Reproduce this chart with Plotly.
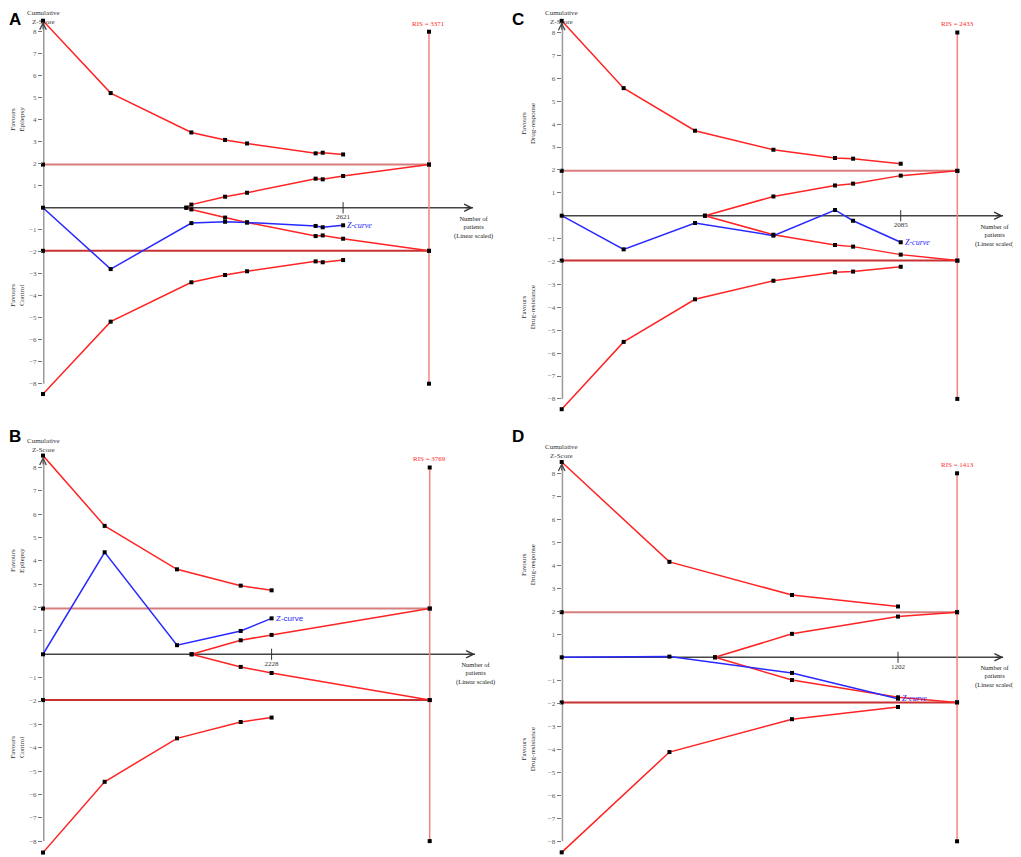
import plotly.graph_objects as go

# page has an 8px body margin, so the figure is a bit smaller than the window
OFF = 8
W, H = 1021 - OFF, 857 - OFF
SERIF = "Liberation Serif"
CONV_Z = 1.96          # conventional boundary
Y_TICKS = [-8, -7, -6, -5, -4, -3, -2, -1, 1, 2, 3, 4, 5, 6, 7, 8]
RIS_SPAN = [-8, 8]

# ---- panel A : epilepsy vs control
A_RIS = 3371
A_N = [0, 591, 1296, 1590, 1782, 2381, 2443, 2621]
A_UPPER = [8.5, 5.21, 3.42, 3.08, 2.92, 2.47, 2.50, 2.42]
A_LOWER = [-8.47, -5.18, -3.39, -3.06, -2.89, -2.44, -2.48, -2.38]
A_ZCURVE = [0, -2.79, -0.70, -0.64, -0.67, -0.83, -0.89, -0.80]
A_WEDGE_START = 1252
A_WEDGE_N = [1296, 1590, 1782, 2381, 2443, 2621]
A_WEDGE_UP = [0.14, 0.50, 0.68, 1.32, 1.29, 1.44]
A_WEDGE_LO = [-0.08, -0.45, -0.67, -1.29, -1.26, -1.41]

# ---- panel B : epilepsy vs control
B_RIS = 3769
B_N = [0, 601, 1306, 1927, 2228]
B_UPPER = [8.51, 5.50, 3.64, 2.94, 2.74]
B_LOWER = [-8.49, -5.46, -3.60, -2.90, -2.71]
B_ZCURVE = [0, 4.37, 0.39, 1.00, 1.54]
B_WEDGE_START = 1449
B_WEDGE_N = [1927, 2228]
B_WEDGE_UP = [0.60, 0.83]
B_WEDGE_LO = [-0.54, -0.80]

# ---- panel C : drug-response vs drug-resistance
C_RIS = 2433
C_N = [0, 381, 820, 1302, 1681, 1792, 2085]
C_UPPER = [8.51, 5.57, 3.71, 2.88, 2.52, 2.49, 2.27]
C_LOWER = [-8.45, -5.51, -3.65, -2.84, -2.47, -2.44, -2.23]
C_ZCURVE = [0, -1.47, -0.32, -0.87, 0.25, -0.22, -1.16]
C_WEDGE_START = 881
C_WEDGE_N = [1302, 1681, 1792, 2085]
C_WEDGE_UP = [0.84, 1.32, 1.40, 1.75]
C_WEDGE_LO = [-0.83, -1.28, -1.35, -1.70]

# ---- panel D : drug-response vs drug-resistance
D_RIS = 1413
D_N = [0, 385, 823, 1202]
D_UPPER = [8.49, 4.15, 2.71, 2.21]
D_LOWER = [-8.48, -4.12, -2.69, -2.16]
D_ZCURVE = [0, 0.03, -0.68, -1.80]
D_WEDGE_START = 548
D_WEDGE_N = [823, 1202]
D_WEDGE_UP = [1.02, 1.77]
D_WEDGE_LO = [-0.99, -1.74]

FAV_EPI = ["Favours<br>Epilepsy", "Favours<br>Control"]
FAV_DRUG = ["Favours<br>Drug-response", "Favours<br>Drug-resistance"]

# pixel geometry (window pixels): y-axis x, px per patient, x-axis end, y=0 px, px per z, y range
PANELS = [
    dict(letter="A", data=(A_RIS, A_N, A_UPPER, A_LOWER, A_ZCURVE, A_WEDGE_START, A_WEDGE_N, A_WEDGE_UP, A_WEDGE_LO),
         fav=FAV_EPI, x0=43, ppx=0.1145, xend=473, y0=207.7, unit=22.0, yr=(-8.8, 8.8),
         favx=18, letpos=(15, 20), cumshift=-6, nshift=0,
         zfont=dict(family=SERIF, style="italic", size=8)),
    dict(letter="B", data=(B_RIS, B_N, B_UPPER, B_LOWER, B_ZCURVE, B_WEDGE_START, B_WEDGE_N, B_WEDGE_UP, B_WEDGE_LO),
         fav=FAV_EPI, x0=43, ppx=0.1026, xend=475, y0=654.3, unit=23.35, yr=(-8.6, 8.8),
         favx=18, letpos=(15, 436), cumshift=1, nshift=0,
         zfont=dict(family="Liberation Sans", size=8)),
    dict(letter="C", data=(C_RIS, C_N, C_UPPER, C_LOWER, C_ZCURVE, C_WEDGE_START, C_WEDGE_N, C_WEDGE_UP, C_WEDGE_LO),
         fav=FAV_DRUG, x0=561.7, ppx=0.1626, xend=1003, y0=215.7, unit=22.9, yr=(-8.8, 8.8),
         favx=528, letpos=(518, 20), cumshift=-6, nshift=-9,
         zfont=dict(family=SERIF, style="italic", size=8)),
    dict(letter="D", data=(D_RIS, D_N, D_UPPER, D_LOWER, D_ZCURVE, D_WEDGE_START, D_WEDGE_N, D_WEDGE_UP, D_WEDGE_LO),
         fav=FAV_DRUG, x0=561.7, ppx=0.2798, xend=1003.3, y0=657.3, unit=23.0, yr=(-8.6, 8.8),
         favx=528, letpos=(518, 436), cumshift=1, nshift=-9,
         zfont=dict(family=SERIF, style="italic", size=8)),
]

RED = "rgb(255,35,35)"
BLUE = "rgb(40,40,255)"
DOT = dict(color="black", size=4, symbol="square")

fig = go.Figure()
shapes, annots = [], []

for k, p in enumerate(PANELS, start=1):
    ris, n, up, lo, zc, w0, wn, wup, wlo = p["data"]
    sfx = "" if k == 1 else str(k)
    xa, ya = "x" + sfx, "y" + sfx
    x0, xend, y0 = p["x0"] - OFF, p["xend"] - OFF, p["y0"] - OFF
    xmax = (xend - x0) / p["ppx"]
    ylo, yhi = p["yr"]
    top_px = y0 - yhi * p["unit"]
    bot_px = y0 - ylo * p["unit"]

    fig.layout["xaxis" + sfx] = dict(domain=[x0 / W, xend / W], range=[0, xmax],
                                     visible=False, anchor=ya, fixedrange=True)
    fig.layout["yaxis" + sfx] = dict(domain=[max(0, 1 - bot_px / H), 1 - top_px / H], range=[ylo, yhi],
                                     anchor=xa, tickvals=Y_TICKS, ticks="outside", ticklen=4,
                                     tickwidth=1, tickcolor="#777", showgrid=False, zeroline=False,
                                     showline=False, tickfont=dict(family=SERIF, size=7, color="#555"))

    # axes lines
    shapes.append(dict(type="line", xref=xa, yref=ya, x0=0, x1=0, y0=-8, y1=8.45,
                       line=dict(color="#9a9a9a", width=3), layer="below"))
    shapes.append(dict(type="line", xref=xa, yref=ya, x0=0, x1=xmax, y0=0, y1=0,
                       line=dict(color="#444", width=1.5), layer="below"))
    annots.append(dict(x=xmax, y=0, xref=xa, yref=ya, ax=-9, ay=0, text="", showarrow=True,
                       arrowhead=5, arrowsize=1.3, arrowwidth=1.1, arrowcolor="#333"))
    annots.append(dict(x=0, y=8.45, xref=xa, yref=ya, ax=0, ay=9, text="", showarrow=True,
                       arrowhead=5, arrowsize=1.3, arrowwidth=1.0, arrowcolor="#444"))

    # conventional boundaries
    fig.add_trace(go.Scatter(x=[0, ris], y=[CONV_Z, CONV_Z], xaxis=xa, yaxis=ya, mode="lines+markers",
                             line=dict(color="rgb(215,125,125)", width=2), marker=DOT, cliponaxis=False))
    fig.add_trace(go.Scatter(x=[0, ris], y=[-CONV_Z, -CONV_Z], xaxis=xa, yaxis=ya, mode="lines+markers",
                             line=dict(color="rgb(200,50,50)", width=2), marker=DOT, cliponaxis=False))
    # required information size
    fig.add_trace(go.Scatter(x=[ris, ris], y=RIS_SPAN, xaxis=xa, yaxis=ya, mode="lines+markers",
                             line=dict(color="rgb(245,130,130)", width=1.5), marker=DOT, cliponaxis=False))
    annots.append(dict(x=ris, y=RIS_SPAN[1], xref=xa, yref=ya, text=f"RIS = {ris}", showarrow=False,
                       yanchor="bottom", yshift=2, font=dict(family=SERIF, size=7, color="rgb(255,40,40)")))

    # monitoring boundaries
    for ys in (up, lo):
        fig.add_trace(go.Scatter(x=n, y=ys, xaxis=xa, yaxis=ya, mode="lines+markers",
                                 line=dict(color=RED, width=1.5), marker=DOT, cliponaxis=False))
    # futility wedge
    for ys, end in ((wup, CONV_Z), (wlo, -CONV_Z)):
        fig.add_trace(go.Scatter(x=[w0] + wn + [ris], y=[0] + ys + [end], xaxis=xa, yaxis=ya,
                                 mode="lines+markers", line=dict(color=RED, width=1.5),
                                 marker=DOT, cliponaxis=False))
    # z-curve
    fig.add_trace(go.Scatter(x=n, y=zc, xaxis=xa, yaxis=ya, mode="lines+markers",
                             line=dict(color=BLUE, width=1.5), marker=DOT, cliponaxis=False))
    annots.append(dict(x=n[-1], y=zc[-1], xref=xa, yref=ya, text="Z-curve", showarrow=False,
                       xanchor="left", xshift=2, font=dict(color=BLUE, **p["zfont"])))

    # cumulative patients tick
    fig.add_trace(go.Scatter(x=[n[-1]], y=[0], xaxis=xa, yaxis=ya, mode="markers+text",
                             marker=dict(symbol="line-ns-open", size=8, color="#333",
                                         line=dict(color="#333", width=1)),
                             text=[str(n[-1])], textposition="bottom center",
                             textfont=dict(family=SERIF, size=7, color="#333"), cliponaxis=False))

    annots.append(dict(x=xmax, y=0, xref=xa, yref=ya, text="Number of<br>patients<br>(Linear scaled)",
                       showarrow=False, xanchor="center", yanchor="top", yshift=-5, xshift=p["nshift"],
                       font=dict(family=SERIF, size=6.5, color="#222")))
    annots.append(dict(x=0, y=8.45, xref=xa, yref=ya, text="Cumulative<br>Z-Score", showarrow=False,
                       xanchor="center", yanchor="bottom", yshift=p["cumshift"],
                       font=dict(family=SERIF, size=7, color="#333")))
    for txt, yv in zip(p["fav"], (4, -4)):
        annots.append(dict(x=(p["favx"] - OFF) / W, y=yv, xref="paper", yref=ya, text=txt,
                           showarrow=False, xanchor="center", yanchor="middle", textangle=-90,
                           font=dict(family=SERIF, size=7, color="#333")))
    annots.append(dict(x=(p["letpos"][0] - OFF) / W, y=1 - (p["letpos"][1] - OFF) / H,
                       xref="paper", yref="paper", xanchor="center", yanchor="middle",
                       text="<b>" + p["letter"] + "</b>", showarrow=False,
                       font=dict(family="Liberation Sans", size=17, color="black")))

fig.update_layout(width=W, height=H, margin=dict(l=0, r=0, t=0, b=0),
                  paper_bgcolor="white", plot_bgcolor="white", showlegend=False,
                  shapes=shapes, annotations=annots)

fig.write_html("out.html")
